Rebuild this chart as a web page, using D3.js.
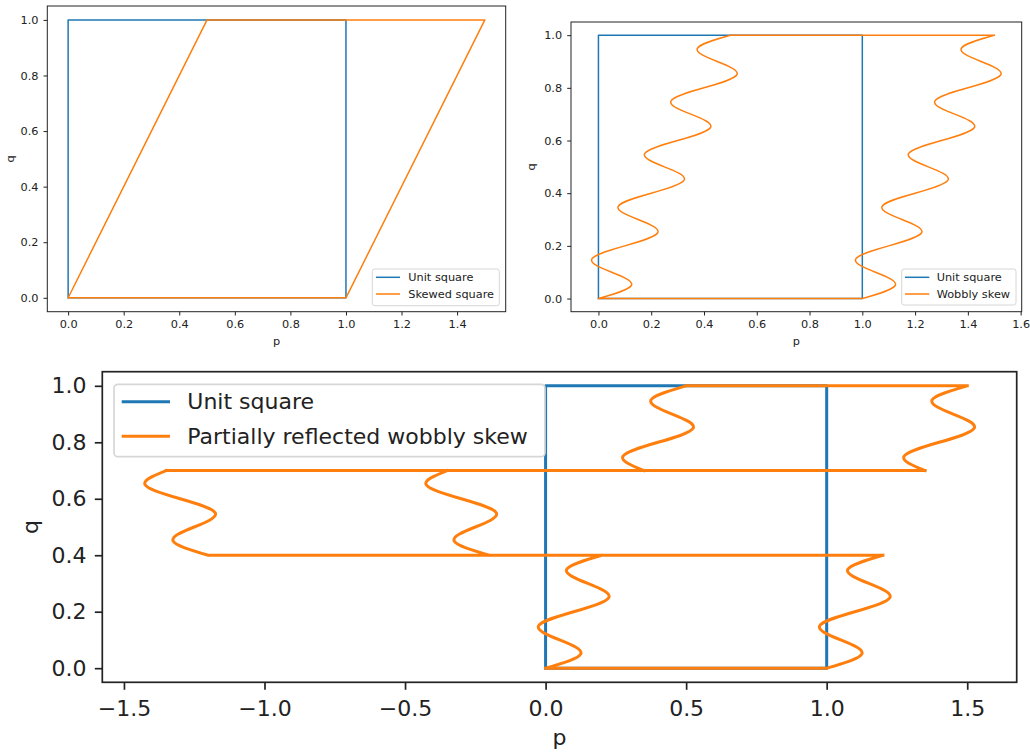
<!DOCTYPE html>
<html>
<head>
<meta charset="utf-8">
<script src="https://cdn.jsdelivr.net/npm/d3@7"></script>
<style>
  body { margin: 0; background: #fff; }
  svg { display: block; font-family: "DejaVu Sans", sans-serif; }
</style>
</head>
<body>
<svg id="chart" width="1030" height="755"></svg>
<script>
// --- data ---
var unitP = [0, 1, 1, 0, 0];
var unitQ = [0, 0, 1, 1, 0];

var skewP = [0, 1, 1.5, 0.5, 0];
var skewQ = [0, 0, 1, 1, 0];

// wobbly outline: bottom edge, right edge up, top edge, left edge down
var wobblyQ = [0, 0,
  0.05, 0.1, 0.15, 0.2, 0.25, 0.3, 0.35, 0.4, 0.45, 0.5, 0.55, 0.6, 0.65, 0.7, 0.75, 0.8, 0.85, 0.9, 0.95, 1,
  1,
  0.95, 0.9, 0.85, 0.8, 0.75, 0.7, 0.65, 0.6, 0.55, 0.5, 0.45, 0.4, 0.35, 0.3, 0.25, 0.2, 0.15, 0.1, 0.05, 0];
var wobblyP = [0, 1,
  1.125, 1.05, 0.975, 1.1, 1.225, 1.15, 1.075, 1.2, 1.325, 1.25, 1.175, 1.3, 1.425, 1.35, 1.275, 1.4, 1.525, 1.45, 1.375, 1.5,
  0.5,
  0.375, 0.45, 0.525, 0.4, 0.275, 0.35, 0.425, 0.3, 0.175, 0.25, 0.325, 0.2, 0.075, 0.15, 0.225, 0.1, -0.025, 0.05, 0.125, 0];

// partially reflected outline (band 0.4 < q < 0.7 flipped)
var reflQ = [0, 0,
  0.05, 0.1, 0.15, 0.2, 0.25, 0.3, 0.35, 0.4,
  0.4, 0.45, 0.5, 0.55, 0.6, 0.65, 0.7,
  0.7, 0.75, 0.8, 0.85, 0.9, 0.95, 1,
  1,
  0.95, 0.9, 0.85, 0.8, 0.75, 0.7,
  0.7, 0.65, 0.6, 0.55, 0.5, 0.45, 0.4,
  0.4, 0.35, 0.3, 0.25, 0.2, 0.15, 0.1, 0.05, 0];
var reflP = [0, 1,
  1.125, 1.05, 0.975, 1.1, 1.225, 1.15, 1.075, 1.2,
  -1.2, -1.325, -1.25, -1.175, -1.3, -1.425, -1.35,
  1.35, 1.275, 1.4, 1.525, 1.45, 1.375, 1.5,
  0.5,
  0.375, 0.45, 0.525, 0.4, 0.275, 0.35,
  -0.35, -0.425, -0.3, -0.175, -0.25, -0.325, -0.2,
  0.2, 0.075, 0.15, 0.225, 0.1, -0.025, 0.05, 0.125, 0];

var qTicks = [0, 0.2, 0.4, 0.6, 0.8, 1.0];
var pTicksA = [0, 0.2, 0.4, 0.6, 0.8, 1.0, 1.2, 1.4];
var pTicksB = [0, 0.2, 0.4, 0.6, 0.8, 1.0, 1.2, 1.4, 1.6];
var pTicksC = [-1.5, -1.0, -0.5, 0, 0.5, 1.0, 1.5];

var labelsA = ["Unit square", "Skewed square"];
var labelsB = ["Unit square", "Wobbly skew"];
var labelsC = ["Unit square", "Partially reflected wobbly skew"];

var colors = ["#1f77b4", "#ff7f0e"];

function zip(ps, qs) { return ps.map(function (p, i) { return [p, qs[i]]; }); }

var panels = [
  { left: 47.3, right: 505.7, top: 6, bottom: 311.7,
    xDom: [-0.075, 1.575], xTicks: pTicksA, fs: 11.3, lw: 1.5, tick: 3.8, pad: 4.7, ypad: 5.1, spine: 1,
    series: [{ pts: zip(unitP, unitQ), smooth: false }, { pts: zip(skewP, skewQ), smooth: false }],
    labels: labelsA,
    leg: { x: 372.3, y: 269, w: 127, h: 36.7, rows: [277.3, 294], hx0: 376, hx1: 400, tx: 408.3, r: 2.5, sw: 1 },
    xl: { x: 276.5, y: 345 }, yl: { x: 13.5, y: 159 } },
  { left: 571, right: 1021.7, top: 22, bottom: 311.7,
    xDom: [-0.104, 1.604], xTicks: pTicksB, fs: 11.3, lw: 1.5, tick: 3.8, pad: 4.7, ypad: 5.1, spine: 1,
    series: [{ pts: zip(unitP, unitQ), smooth: false }, { pts: zip(wobblyP, wobblyQ), smooth: true }],
    labels: labelsB,
    leg: { x: 901.7, y: 269, w: 114.3, h: 36, rows: [277.3, 294], hx0: 905, hx1: 929.3, tx: 936.7, r: 2.5, sw: 1 },
    xl: { x: 796.3, y: 345 }, yl: { x: 535, y: 166.9 } },
  { left: 102.3, right: 1016.7, top: 371.7, bottom: 682.3,
    xDom: [-1.577, 1.676], xTicks: pTicksC, fs: 22, lw: 3, tick: 7.5, pad: 10.5, ypad: 8.3, spine: 1.7,
    series: [{ pts: zip(unitP, unitQ), smooth: false }, { pts: zip(reflP, reflQ), smooth: true }],
    labels: labelsC,
    leg: { x: 114, y: 384.3, w: 431, h: 72.4, rows: [401.7, 436.2], hx0: 121.7, hx1: 170, tx: 187.3, r: 4, sw: 1.7 },
    xl: { x: 559.5, y: 745.3 }, yl: { x: 38, y: 527 } }
];

var svg = d3.select('#chart');
var fmt = d3.format('.1f');

// split an outline into horizontal pieces (straight) and wobbly runs (smooth)
function outlinePath(s, x, y) {
  var ctx = d3.path();
  var straight = d3.line().x(function (d) { return x(d[0]); }).y(function (d) { return y(d[1]); }).context(ctx);
  if (!s.smooth) { straight(s.pts); return ctx.toString(); }
  var smooth = d3.line().x(function (d) { return x(d[0]); }).y(function (d) { return y(d[1]); })
    .curve(d3.curveNatural).context(ctx);
  var pts = s.pts, start = 0;
  var flat = function (i) { return pts[i][1] === pts[i + 1][1]; };
  for (var i = 1; i <= pts.length - 1; i++) {
    if (i === pts.length - 1 || flat(i) !== flat(start)) {
      var run = pts.slice(start, i + 1);
      (flat(start) ? straight : smooth)(run);
      start = i;
    }
  }
  return ctx.toString();
}

panels.forEach(function (c, idx) {
  var x = d3.scaleLinear().domain(c.xDom).range([c.left, c.right]);
  var y = d3.scaleLinear().domain([-0.05, 1.05]).range([c.bottom, c.top]);
  var g = svg.append('g');

  var clipId = 'clip' + idx;
  g.append('clipPath').attr('id', clipId).append('rect')
    .attr('x', c.left).attr('y', c.top).attr('width', c.right - c.left).attr('height', c.bottom - c.top);

  var lines = g.append('g').attr('clip-path', 'url(#' + clipId + ')');
  c.series.forEach(function (s, i) {
    lines.append('path')
      .attr('d', outlinePath(s, x, y))
      .attr('fill', 'none')
      .attr('stroke', colors[i])
      .attr('stroke-width', c.lw)
      .attr('stroke-linejoin', 'round')
      .attr('stroke-linecap', 'square');
  });

  // axes
  var xa = g.append('g').attr('transform', 'translate(0,' + c.bottom + ')')
    .call(d3.axisBottom(x).tickValues(c.xTicks).tickFormat(fmt).tickSize(c.tick).tickPadding(c.pad));
  var ya = g.append('g').attr('transform', 'translate(' + c.left + ',0)')
    .call(d3.axisLeft(y).tickValues(qTicks).tickFormat(fmt).tickSize(c.tick).tickPadding(c.ypad));
  [xa, ya].forEach(function (a) {
    a.select('.domain').remove();
    a.selectAll('line').attr('stroke', '#222').attr('stroke-width', c.spine);
    a.selectAll('text').attr('fill', '#222').style('font-size', c.fs + 'px').style('font-family', '"DejaVu Sans"');
  });

  g.append('rect')
    .attr('x', c.left).attr('y', c.top).attr('width', c.right - c.left).attr('height', c.bottom - c.top)
    .attr('fill', 'none').attr('stroke', '#222').attr('stroke-width', c.spine);

  g.append('text').text('p')
    .attr('x', c.xl.x).attr('y', c.xl.y).attr('text-anchor', 'middle')
    .attr('fill', '#222').style('font-size', c.fs + 'px');
  g.append('text').text('q')
    .attr('transform', 'translate(' + c.yl.x + ',' + c.yl.y + ') rotate(-90)')
    .attr('text-anchor', 'middle').attr('fill', '#222').style('font-size', c.fs + 'px');

  // legend
  var L = c.leg;
  var lg = g.append('g');
  lg.append('rect')
    .attr('x', L.x).attr('y', L.y).attr('width', L.w).attr('height', L.h).attr('rx', L.r)
    .attr('fill', '#fff').attr('fill-opacity', 0.8)
    .attr('stroke', '#d6d6d6').attr('stroke-width', L.sw);
  c.labels.forEach(function (t, i) {
    lg.append('line')
      .attr('x1', L.hx0).attr('x2', L.hx1).attr('y1', L.rows[i]).attr('y2', L.rows[i])
      .attr('stroke', colors[i]).attr('stroke-width', c.lw);
    lg.append('text').text(t)
      .attr('x', L.tx).attr('y', L.rows[i]).attr('dy', '0.35em')
      .attr('fill', '#222').style('font-size', c.fs + 'px');
  });
});
</script>
</body>
</html>
